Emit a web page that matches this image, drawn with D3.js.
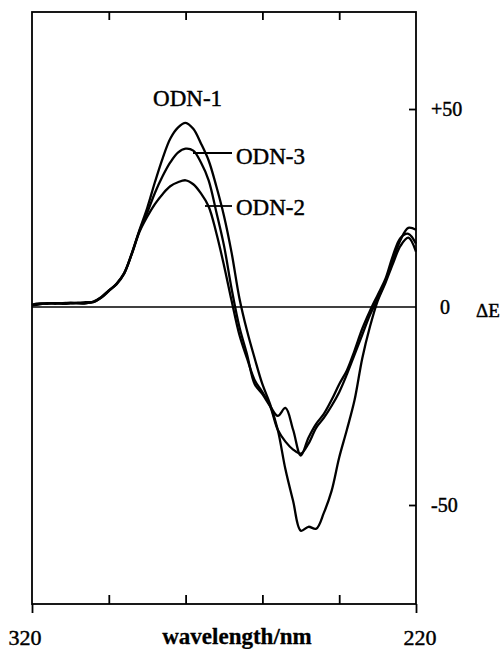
<!DOCTYPE html>
<html><head><meta charset="utf-8">
<script src="https://cdn.jsdelivr.net/npm/d3@7"></script>
<style>body{margin:0;background:#fff}svg{display:block}</style>
</head><body>
<script>
// wavelengths (nm), 320 -> 220 in 2 nm steps
const wavelengths = d3.range(320, 219, -2);
const odn1 = [0.5,0.8,1.0,0.8,1.0,1.0,0.9,1.0,1.2,2.3,4.0,5.8,8.6,13.5,19.5,
  25,31.5,37.5,42.5,45.3,46.5,45,41.3,37,30.5,
  23,13.6,2.3,-6,-13,-19.5,-24.5,-31,-41,-49,
  -56.5,-55.5,-56,-52,-46.5,-38,-31,-23.5,-13,-5,
  1.5,6,11,15.5,17.5,14];
const odn3 = [0.4,0.7,0.9,1.0,0.8,0.9,1.1,1.2,1.3,2.4,4.1,5.9,8.5,13.6,19.3,
  23.8,28.8,33,36.5,39,40,39.5,36.5,32,24,
  15.5,4.5,-5,-12,-19.5,-22,-25,-27.5,-25.5,-31,
  -37.5,-33,-29.5,-27,-23.5,-19.5,-16,-11,-5.5,-1,
  3,7,13,17.5,18.5,16];
const odn2 = [0.6,0.9,0.8,1.0,0.9,1.1,1.0,0.9,1.4,2.5,4.2,5.7,8.4,13.4,19,
  22.8,26,28.5,30.5,31.5,32,31,28.7,25.4,18.7,
  10.5,1.5,-7,-13,-18.5,-21.5,-25,-31,-34,-36,
  -37,-34.5,-30.5,-28,-25,-21.5,-17,-12,-7,-2,
  2,6.5,12,17,20,19.5];
const seriesNames = ["ODN-1","ODN-2","ODN-3"];
const xInnerTicks = [300,280,260,240];
const xEndTicks = [320,220];
const xTickLabels = ["320","220"];
const yTicks = [50,0,-50];
const yTickLabels = ["+50","0","-50"];
const xTitle = "wavelength/nm";
const yTitle = "\u0394E";

const W=501,H=649, L=32,R=416,T=12,B=604;
const svg=d3.select("body").append("svg").attr("width",W).attr("height",H);
const x=d3.scaleLinear().domain([320,220]).range([L,R]);
const y=d3.scaleLinear().domain([-75,74.5]).range([B,T]);
const font="'Liberation Serif','Times New Roman',serif";

// frame
svg.append("rect").attr("x",L).attr("y",T).attr("width",R-L).attr("height",B-T)
  .attr("fill","none").attr("stroke","#000").attr("stroke-width",1.8);

// ticks
const gB=svg.append("g").attr("transform",`translate(0,${B})`)
  .call(d3.axisBottom(x).tickValues(xInnerTicks).tickSize(-9).tickFormat(""));
const gB2=svg.append("g").attr("transform",`translate(0,${B})`)
  .call(d3.axisBottom(x).tickValues(xEndTicks).tickSize(9).tickFormat(""));
const gT=svg.append("g").attr("transform",`translate(0,${T})`)
  .call(d3.axisTop(x).tickValues(xInnerTicks).tickSize(-8).tickFormat(""));
const gR=svg.append("g").attr("transform",`translate(${R},0)`)
  .call(d3.axisRight(y).tickValues([50,-50]).tickSize(-7).tickFormat(""));
[gB,gB2,gT,gR].forEach(g=>{g.select(".domain").remove();
  g.selectAll("line").attr("stroke","#000").attr("stroke-width",1.8);});

// zero line
svg.append("line").attr("x1",L).attr("x2",R).attr("y1",y(0)).attr("y2",y(0))
  .attr("stroke","#000").attr("stroke-width",1.6);

// curves
const line=d3.line().x((d,i)=>x(wavelengths[i])).y(d=>y(d)).curve(d3.curveCatmullRom.alpha(0.5));
[odn1,odn2,odn3].forEach(s=>{
  svg.append("path").datum(s).attr("d",line).attr("fill","none")
    .attr("stroke","#000").attr("stroke-width",2.3).attr("stroke-linejoin","round");
});

function txt(xp,yp,s,size,anchor,bold){
  return svg.append("text").attr("x",xp).attr("y",yp).attr("text-anchor",anchor||"start")
    .attr("font-family",font).attr("font-size",size).attr("font-weight",bold?"bold":"normal")
    .attr("fill","#000").attr("stroke","#000").attr("stroke-width",bold?0.3:0.45).text(s);
}
// curve labels
txt(x(280)+2,106,seriesNames[0],23,"middle");
txt(236,164,seriesNames[2],23);
txt(236,215,seriesNames[1],23);
svg.append("line").attr("x1",193).attr("x2",232).attr("y1",153).attr("y2",153)
  .attr("stroke","#000").attr("stroke-width",1.8);
svg.append("line").attr("x1",205).attr("x2",232).attr("y1",206).attr("y2",206)
  .attr("stroke","#000").attr("stroke-width",1.8);

// y tick labels
yTicks.forEach((v,i)=>{ txt(v===0?440:431,y(v)+7,yTickLabels[i],20); });
txt(476,y(0)+10,yTitle,19);

// x labels
txt(x(320)-7,645,xTickLabels[0],22,"middle");
txt(x(220)+4,645,xTickLabels[1],22,"middle");
txt(237,644,xTitle,23,"middle",true);
</script>
</body></html>
